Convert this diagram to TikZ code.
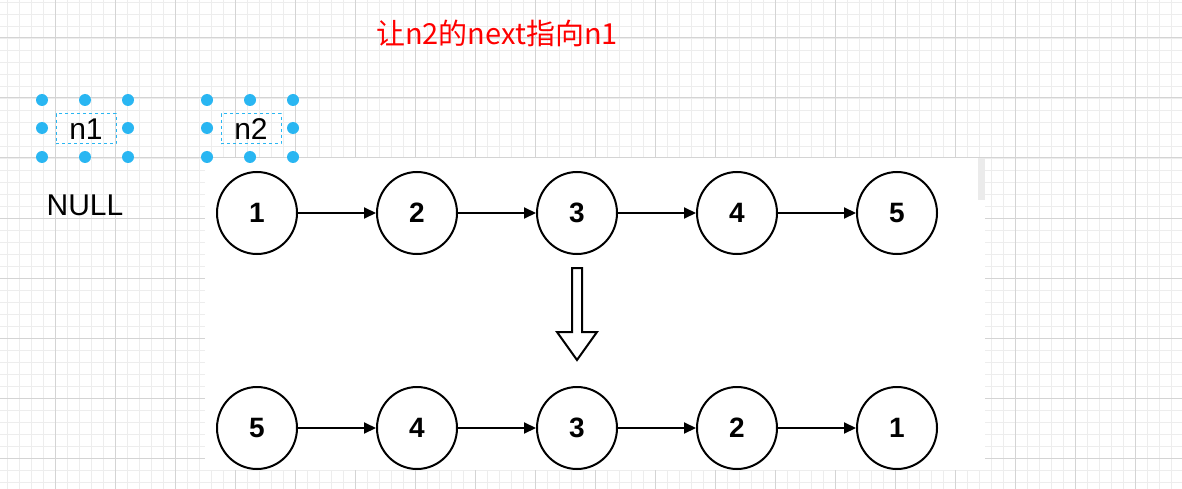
\documentclass[tikz,border=0pt]{standalone}
\usepackage{fontspec}
\setmainfont{Liberation Sans}
\newfontfamily\cjk{Noto Sans CJK SC}
\usetikzlibrary{arrows.meta,shapes.geometric}
\definecolor{sel}{HTML}{29B6F2}
\begin{document}
\begin{tikzpicture}[x=1pt,y=-1pt,
  lnode/.style={draw,line width=2pt,ellipse,minimum width=80pt,minimum height=82pt,inner sep=0pt,font=\fontsize{28}{28}\selectfont\bfseries},
  link/.style={line width=2pt,-{Triangle[length=12pt,width=11pt]}},
  handle/.style={circle,fill=sel,inner sep=0pt,minimum size=12pt},
  selbox/.style={draw=sel,dashed,line width=1pt,minimum width=60pt,minimum height=30pt,inner sep=0pt,font=\fontsize{30}{30}\selectfont}]
\useasboundingbox (0,0) rectangle (1182,489);
\fill[white] (0,0) rectangle (1182,489);
\foreach \x in {7,19,...,1182} \draw[black!7,line width=0.8pt] (\x,0) -- (\x,489);
\foreach \y in {2,14,...,489} \draw[black!7,line width=0.8pt] (0,\y) -- (1182,\y);
\foreach \x in {55,115,...,1182} \draw[black!17,line width=1pt] (\x,0) -- (\x,489);
\foreach \y in {38,98,...,489} \draw[black!17,line width=1pt] (0,\y) -- (1182,\y);
\fill[white] (205,158) rectangle (985,470);
\fill[black!8] (978,158) rectangle (985,200);
\node[text=red,font=\cjk\fontsize{29}{29}\selectfont] (title) at (497,33) {让n2的next指向n1};
\node[selbox] (n1) at (86,129) {n1};
\node[selbox] (n2) at (251,129) {n2};
\foreach \cx/\nm in {85/a,250/b}{
  \foreach \dx in {-43,0,43}{
    \node[handle] at (\cx+\dx,100) {};
    \node[handle] at (\cx+\dx,157) {};}
  \node[handle] at (\cx-43,128) {};
  \node[handle] at (\cx+43,128) {};}
\node[font=\fontsize{30}{30}\selectfont] (null) at (85,205) {NULL};
\foreach \i/\v/\x in {1/1/257,2/2/417,3/3/577,4/4/737,5/5/897}
  \node[lnode] (t\i) at (\x,213) {\v};
\foreach \i/\v/\x in {1/5/257,2/4/417,3/3/577,4/2/737,5/1/897}
  \node[lnode] (b\i) at (\x,428) {\v};
\foreach \a/\b in {1/2,2/3,3/4,4/5}{
  \draw[link] (t\a) -- (t\b);
  \draw[link] (b\a) -- (b\b);}
\draw[line width=2pt,line join=miter,fill=white] (572,268) -- (582,268) -- (582,332) -- (597,332) -- (577,360) -- (557,332) -- (572,332) -- cycle;
\end{tikzpicture}
\end{document}
